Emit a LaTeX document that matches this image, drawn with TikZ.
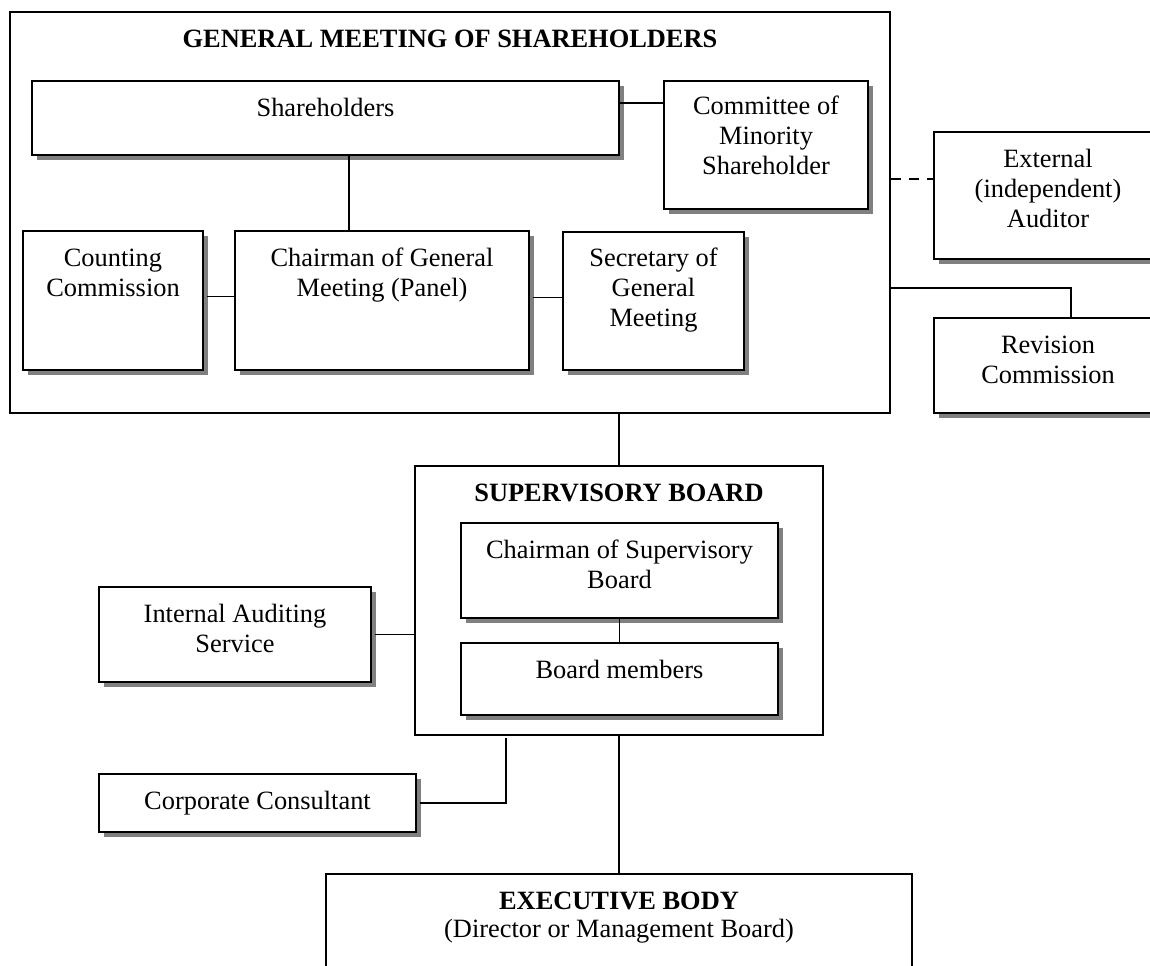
\documentclass[tikz,border=0pt]{standalone}
\usepackage{fontspec}
\setmainfont{Liberation Serif}
\usetikzlibrary{fit,shadows,calc}
\definecolor{shadowgray}{HTML}{808080}
\newcommand{\lblfont}{\fontsize{13.2pt}{15.2pt}\selectfont}
\tikzset{
  outerbox/.style={draw=black, line width=0.9pt, fill=white, inner sep=0pt, rectangle},
  box/.style={draw=black, line width=1.1pt, fill=white, inner sep=0pt, rectangle,
    drop shadow={shadow xshift=2.6pt, shadow yshift=-2.6pt, fill=shadowgray, opacity=1}},
  lbl/.style={anchor=north, inner sep=0pt, align=center, font=\lblfont},
  conn/.style={draw=black, line width=0.85pt},
  dashconn/.style={conn, dash pattern=on 5pt off 4pt}
}
\begin{document}
\begin{tikzpicture}[x=0.5pt,y=-0.5pt]
\path[use as bounding box, clip] (0,0) rectangle (1150,965);
\fill[white] (0,0) rectangle (1150,965);

% General meeting
\node[outerbox, fit={(10,12)(890,413)}] (gms) {};
\node[lbl, font=\lblfont\bfseries] (gmst) at ([yshift=-7.3pt]gms.north) {\strut GENERAL MEETING OF SHAREHOLDERS};

\node[box, fit={(32,81)(619,155)}] (sh) {};
\node[lbl] (sht) at ([yshift=-7.3pt]sh.north) {\strut Shareholders};

\node[box, fit={(664,81)(868,209)}] (cms) {};
\node[lbl] (cmst) at ([yshift=-6.3pt]cms.north) {\strut Committee of\\Minority\\Shareholder};

\node[box, fit={(23,231)(203,370)}] (cnt) {};
\node[lbl] (cntt) at ([yshift=-7.3pt]cnt.north) {\strut Counting\\Commission};

\node[box, fit={(235,231)(529,370)}] (cgm) {};
\node[lbl] (cgmt) at ([yshift=-7.3pt]cgm.north) {\strut Chairman of General\\Meeting (Panel)};

\node[box, fit={(563,232)(744,370)}] (sec) {};
\node[lbl] (sect) at ([yshift=-6.8pt]sec.north) {\strut Secretary of\\General\\Meeting};

\node[box, fit={(934,132)(1162,259)}] (ext) {};
\node[lbl] (extt) at ([yshift=-7.3pt]ext.north -| 1048,0) {\strut External\\(independent)\\Auditor};

\node[box, fit={(934,318)(1162,413)}] (rev) {};
\node[lbl] (revt) at ([yshift=-7.3pt]rev.north -| 1048,0) {\strut Revision\\Commission};

% Supervisory board
\node[outerbox, fit={(415,466)(823,735)}] (sb) {};
\node[lbl, font=\lblfont\bfseries] (sbt) at ([yshift=-7.6pt]sb.north) {\strut SUPERVISORY BOARD};

\node[box, fit={(461,523)(778,618)}] (csb) {};
\node[lbl] (csbt) at ([yshift=-7.3pt]csb.north) {\strut Chairman of Supervisory\\Board};

\node[box, fit={(461,643)(778,715)}] (bm) {};
\node[lbl] (bmt) at ([yshift=-7.6pt]bm.north) {\strut Board members};

\node[box, fit={(99,587)(371,682)}] (ias) {};
\node[lbl] (iast) at ([yshift=-7.3pt]ias.north) {\strut Internal Auditing\\Service};

\node[box, fit={(99,774)(416,832)}] (cc) {};
\node[lbl] (cct) at ([yshift=-7.6pt]cc.north) {\strut Corporate Consultant};

% Executive body
\node[outerbox, fit={(326,874)(912,1000)}] (exe) {};
\node[lbl] (exet) at ([yshift=-7.4pt]exe.north) {\strut\textbf{EXECUTIVE BODY}\\[-1.5pt](Director or Management Board)};

% connectors
\draw[conn] ([yshift=-11.5pt]sh.north east) -- ([yshift=-11.5pt]sh.north east -| cms.west);
\coordinate (v1) at (349,155);
\draw[conn] (v1) -- (v1 |- cgm.north);
\draw[conn] ([xshift=1.2pt,yshift=2pt]cnt.east) -- ([yshift=2pt]cnt.east -| cgm.west);
\draw[conn] ([xshift=1.2pt,yshift=1.5pt]cgm.east) -- ([yshift=1.5pt]cgm.east -| sec.west);
\coordinate (dd) at (900,179);
\draw[dashconn] (gms.east |- dd) -- (ext.west |- dd);
\coordinate (rr) at (1071,288);
\draw[conn] (gms.east |- rr) -- (rr) -- (rr |- rev.north);
\draw[conn] (gms.south -| sb.north) -- (sb.north);
\draw[conn] (csb.south) -- (bm.north);
\draw[conn] ([xshift=1.2pt]ias.east) -- (ias.east -| sb.west);
\draw[conn] ([xshift=1.2pt]cc.east) -| ([xshift=46pt,yshift=-1pt]sb.south west);
\draw[conn] (sb.south) -- (exe.north);
\end{tikzpicture}
\end{document}
